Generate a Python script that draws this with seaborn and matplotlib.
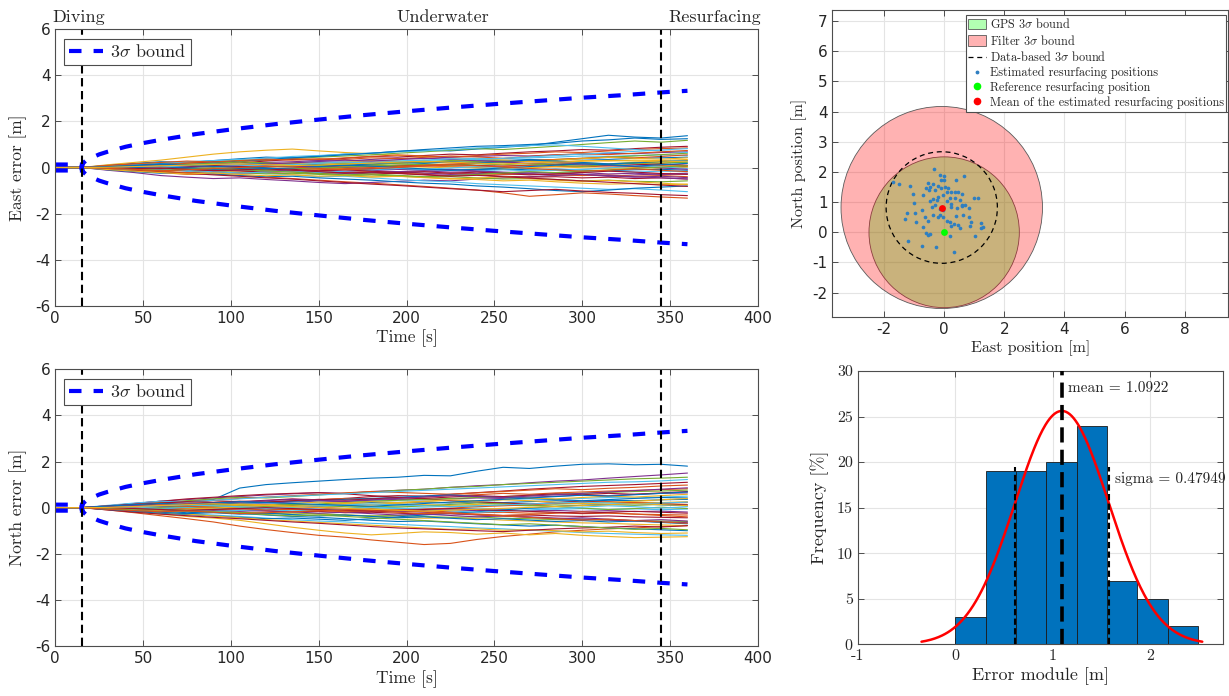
import numpy as np
import pandas as pd
import matplotlib
matplotlib.use("Agg")
import matplotlib.pyplot as plt
import matplotlib.transforms as mtransforms
from matplotlib.patches import Circle, Patch
from matplotlib.lines import Line2D
import seaborn as sns

# ---------------------------------------------------------------- data
# time stamps of the Monte-Carlo runs [s]
TIME = [0, 15, 30, 45, 60, 75, 90, 105, 120, 135, 150, 165, 180, 195, 210,
        225, 240, 255, 270, 285, 300, 315, 330, 345, 360]
# all runs have zero error before the dive (t = 0 and t = 15 s)
PRE_DIVE = [0, 0]

# East error of each run [cm], read at t = 30 ... 360 s
EAST_RUNS = [
    [10, 18, 25, 22, 30, 38, 45, 42, 50, 58, 62, 70, 75, 72, 80, 88, 95, 110, 125, 140, 132, 128, 138],
    [-8, -15, -22, -30, -28, -35, -42, -48, -55, -62, -68, -75, -82, -90, -98, -110, -125, -118, -110, -115, -122, -128, -133],
    [12, 22, 32, 45, 58, 68, 75, 80, 72, 65, 60, 52, 48, 42, 38, 32, 28, 22, 18, 15, 20, 12, 8],
    [-12, -22, -35, -42, -48, -45, -52, -58, -65, -70, -65, -60, -55, -58, -50, -45, -40, -35, -30, -38, -32, -28, -25],
    [5, 12, 20, 18, 25, 32, 30, 38, 45, 50, 55, 62, 68, 75, 82, 78, 85, 92, 100, 108, 115, 110, 118],
    [-5, -10, -8, -15, -22, -28, -25, -32, -40, -38, -45, -52, -58, -62, -70, -75, -80, -85, -90, -95, -92, -98, -105],
    [8, 15, 10, 18, 25, 20, 28, 35, 32, 40, 48, 45, 52, 58, 55, 62, 68, 72, 78, 75, 82, 88, 92],
    [-10, -18, -25, -20, -28, -35, -40, -38, -45, -50, -55, -62, -68, -72, -80, -85, -92, -100, -105, -98, -90, -85, -80],
    [3, 8, 15, 22, 18, 25, 32, 38, 35, 42, 48, 55, 50, 45, 52, 58, 62, 68, 65, 72, 78, 82, 85],
    [-3, -8, -5, -12, -18, -15, -22, -28, -25, -32, -38, -35, -42, -48, -52, -58, -55, -62, -68, -72, -70, -75, -72],
    [6, 10, 5, 12, 18, 15, 22, 25, 30, 28, 35, 40, 38, 45, 48, 52, 50, 55, 58, 62, 60, 65, 68],
    [-6, -10, -15, -12, -18, -22, -28, -25, -30, -35, -32, -38, -42, -40, -45, -50, -48, -52, -58, -55, -60, -62, -58],
    [4, 2, 8, 12, 10, 16, 14, 20, 25, 22, 28, 32, 30, 35, 40, 38, 42, 45, 50, 48, 52, 55, 52],
    [-4, -2, -8, -12, -10, -15, -20, -18, -25, -22, -28, -25, -30, -35, -32, -38, -42, -40, -45, -42, -48, -45, -50],
    [2, 6, 4, 10, 8, 12, 18, 15, 20, 18, 22, 26, 24, 28, 32, 30, 35, 32, 38, 35, 40, 42, 45],
    [-2, -6, -3, -8, -12, -10, -14, -18, -15, -20, -18, -22, -26, -24, -28, -30, -28, -32, -35, -32, -38, -35, -40],
    [5, 8, 12, 8, 15, 12, 10, 15, 18, 14, 20, 18, 22, 20, 25, 22, 28, 25, 30, 28, 32, 30, 35],
    [-5, -8, -4, -10, -6, -12, -8, -14, -10, -16, -12, -18, -15, -20, -18, -22, -20, -25, -22, -28, -25, -30, -28],
    [1, -3, 4, 0, 6, 2, 8, 5, 10, 6, 12, 9, 14, 10, 16, 12, 18, 15, 20, 16, 22, 18, 24],
    [-1, 3, -2, 2, -5, -1, -7, -3, -8, -4, -10, -6, -12, -8, -14, -10, -15, -12, -18, -14, -20, -16, -18],
    [3, 0, 5, 2, 8, 4, 10, 6, 3, 8, 5, 10, 7, 12, 9, 6, 10, 14, 11, 8, 12, 15, 10],
    [-3, 0, -4, -1, -6, -3, -8, -5, -2, -6, -9, -5, -8, -12, -9, -6, -10, -7, -11, -14, -10, -8, -12],
    [2, 4, 1, 5, 3, 7, 4, 8, 5, 2, 6, 3, 7, 4, 1, 5, 8, 4, 6, 2, 5, 8, 4],
    [-2, -4, -1, -5, -3, -6, -2, -5, -8, -4, -1, -5, -2, 2, -2, -5, -1, 3, -1, -4, 0, -3, 1],
    [0, 4, 8, 5, 2, 6, 10, 7, 3, 0, -4, -8, -12, -8, -15, -20, -25, -22, -30, -35, -40, -45, -50],
    [0, -4, -8, -5, -2, -6, -10, -6, -2, 2, 6, 10, 15, 12, 18, 22, 28, 35, 40, 45, 50, 56, 62],
    [6, 12, 18, 25, 30, 35, 40, 48, 52, 58, 62, 68, 72, 78, 85, 90, 95, 98, 92, 85, 78, 72, 65],
    [-6, -12, -18, -25, -32, -38, -45, -50, -58, -65, -72, -78, -85, -92, -98, -105, -100, -95, -102, -108, -112, -118, -122],
    [4, 10, 16, 12, 20, 28, 35, 42, 48, 55, 62, 70, 78, 85, 92, 95, 100, 105, 115, 120, 128, 122, 125],
    [-4, -10, -16, -22, -18, -25, -20, -15, -10, -5, 0, 5, 10, 15, 20, 25, 30, 35, 40, 45, 42, 48, 55],
    [7, 3, 10, 15, 12, 8, 14, 20, 17, 24, 30, 27, 22, 28, 35, 32, 26, 32, 38, 44, 40, 36, 42],
    [-7, -3, -10, -6, -14, -9, -16, -12, -20, -26, -22, -18, -24, -30, -27, -22, -28, -34, -30, -36, -42, -38, -44],
    [3, 9, 6, 13, 18, 24, 20, 15, 10, 16, 12, 18, 24, 30, 26, 20, 15, 10, 5, 12, 18, 24, 20],
    [-3, -9, -6, -13, -18, -24, -20, -15, -22, -16, -10, -4, -8, -2, 4, 0, -6, -12, -8, -2, 6, 2, -4],
    [5, 1, -4, 2, 8, 4, -2, -8, -14, -10, -16, -22, -18, -25, -20, -26, -32, -28, -22, -16, -20, -26, -30],
    [-5, -1, 4, -2, -8, -4, 2, 8, 14, 10, 16, 22, 18, 25, 20, 26, 32, 28, 22, 16, 20, 26, 30],
    [9, 16, 22, 28, 24, 30, 36, 32, 38, 35, 42, 38, 44, 50, 46, 40, 48, 55, 60, 56, 62, 68, 74],
    [-9, -16, -22, -28, -24, -30, -36, -32, -38, -35, -42, -38, -44, -50, -46, -40, -48, -55, -60, -56, -62, -68, -74],
    [2, 7, 12, 8, 4, 9, 15, 20, 26, 32, 28, 34, 40, 36, 30, 24, 18, 22, 16, 10, 4, -2, -8],
    [-2, -7, -12, -8, -4, -9, -15, -20, -26, -32, -28, -34, -40, -36, -30, -24, -18, -22, -16, -10, -4, 2, 8],
    [0, 5, 2, 8, 14, 10, 6, 12, 18, 24, 20, 26, 32, 38, 34, 40, 46, 52, 58, 64, 70, 76, 82],
    [0, -5, -2, -8, -14, -10, -6, -12, -18, -24, -20, -26, -32, -38, -34, -40, -46, -52, -58, -64, -70, -76, -82],
    [4, 8, 14, 10, 5, 0, -5, -2, 4, 10, 6, 0, -6, -12, -8, -2, 4, 10, 16, 12, 6, 12, 18],
    [-4, -8, -14, -10, -5, 0, 5, 2, -4, -10, -6, 0, 6, 12, 8, 2, -4, -10, -16, -12, -6, -12, -18],
    [1, 4, 7, 10, 13, 16, 12, 8, 11, 15, 19, 23, 27, 23, 19, 15, 19, 23, 27, 31, 28, 24, 28],
]

# North error of each run [cm], read at t = 30 ... 360 s
NORTH_RUNS = [
    [5, 12, 20, 28, 35, 85, 100, 108, 115, 122, 128, 132, 140, 138, 158, 175, 170, 180, 188, 190, 186, 188, 180],
    [-10, -22, -35, -48, -62, -80, -95, -108, -120, -128, -140, -150, -160, -155, -138, -125, -115, -105, -98, -92, -88, -82, -78],
    [-8, -18, -28, -38, -45, -55, -70, -85, -98, -110, -118, -112, -105, -108, -115, -110, -118, -112, -120, -125, -130, -128, -126],
    [8, 18, 28, 35, 42, 48, 55, 60, 65, 62, 70, 75, 80, 88, 95, 100, 108, 115, 120, 128, 135, 142, 150],
    [6, 14, 22, 30, 38, 45, 42, 48, 55, 62, 68, 75, 80, 88, 92, 100, 105, 110, 115, 120, 125, 128, 132],
    [-6, -14, -20, -26, -32, -38, -45, -52, -58, -62, -68, -72, -78, -82, -88, -92, -98, -102, -108, -112, -115, -118, -120],
    [5, 10, 16, 24, 30, 26, 32, 38, 34, 40, 48, 52, 50, 58, 65, 72, 80, 86, 92, 96, 100, 105, 110],
    [-5, -10, -15, -22, -18, -25, -32, -38, -42, -48, -55, -60, -58, -64, -70, -75, -80, -76, -82, -88, -92, -96, -100],
    [3, 8, 12, 18, 22, 26, 24, 30, 35, 40, 36, 42, 46, 52, 56, 62, 58, 64, 68, 72, 75, 78, 82],
    [-3, -8, -12, -10, -16, -20, -25, -22, -28, -32, -36, -42, -46, -44, -48, -54, -58, -62, -66, -68, -72, -75, -78],
    [4, 8, 5, 12, 16, 14, 20, 24, 28, 26, 32, 36, 34, 38, 42, 40, 45, 50, 54, 52, 58, 62, 64],
    [-4, -6, -12, -16, -14, -20, -24, -28, -26, -32, -36, -34, -38, -42, -40, -46, -48, -52, -50, -54, -56, -58, -60],
    [2, 5, 9, 6, 12, 18, 15, 20, 24, 22, 28, 30, 28, 33, 30, 35, 38, 36, 40, 44, 42, 46, 50],
    [-2, -5, -4, -9, -12, -10, -15, -18, -16, -22, -20, -24, -28, -26, -30, -34, -32, -36, -38, -36, -40, -42, -44],
    [1, 5, 2, 6, 10, 8, 12, 15, 12, 18, 22, 20, 24, 20, 25, 22, 26, 30, 27, 32, 30, 34, 36],
    [-1, -4, 1, -4, -8, -5, -10, -8, -12, -15, -11, -16, -14, -18, -22, -20, -24, -22, -26, -24, -28, -30, -32],
    [3, 0, 4, 8, 5, 10, 7, 12, 9, 14, 11, 16, 13, 10, 14, 18, 15, 20, 16, 21, 24, 22, 26],
    [-3, 0, -4, -1, -5, -2, -7, -3, -8, -6, -10, -7, -11, -9, -13, -10, -14, -12, -16, -13, -17, -15, -19],
    [2, -2, 3, 0, 4, 1, 5, 2, 6, 8, 4, 7, 9, 5, 8, 11, 8, 12, 9, 13, 10, 14, 12],
    [-2, 2, -3, 0, -4, -1, -5, -2, -6, -3, -7, -4, -1, -5, -2, -6, -3, -7, -4, -8, -5, -9, -6],
    [8, 18, 28, 38, 45, 52, 58, 62, 65, 60, 52, 45, 38, 30, 25, 20, 16, 22, 28, 24, 20, 16, 12],
    [-8, -16, -24, -30, -36, -42, -48, -45, -50, -55, -48, -40, -32, -25, -18, -10, -2, 5, 10, 14, 18, 12, 8],
    [5, 12, 20, 26, 32, 40, 46, 52, 58, 64, 70, 66, 62, 58, 64, 70, 76, 82, 78, 84, 88, 94, 98],
    [-5, -12, -20, -28, -36, -44, -52, -58, -64, -70, -76, -82, -88, -94, -92, -98, -95, -100, -105, -102, -108, -112, -110],
    [2, 5, 10, 15, 20, 16, 12, 8, 2, -4, -10, -15, -20, -26, -32, -36, -40, -45, -50, -54, -58, -62, -65],
    [-2, -5, -10, -14, -8, -2, 4, 10, 16, 22, 28, 32, 36, 40, 44, 48, 52, 58, 62, 66, 70, 72, 76],
    [10, 20, 28, 24, 32, 38, 45, 50, 55, 60, 65, 70, 75, 80, 85, 90, 95, 100, 105, 110, 112, 116, 122],
    [-10, -20, -28, -35, -42, -48, -55, -62, -68, -75, -82, -88, -92, -96, -100, -104, -98, -92, -88, -85, -80, -84, -78],
    [4, 8, 5, 10, 15, 20, 24, 28, 32, 36, 40, 45, 50, 55, 50, 45, 40, 35, 30, 35, 40, 44, 42],
    [-4, -8, -10, -5, 0, 5, 10, 6, 0, -6, -12, -10, -6, -2, 4, 8, 12, 18, 22, 26, 22, 18, 22],
    [6, 2, 9, 14, 10, 16, 12, 18, 24, 20, 26, 22, 28, 34, 30, 36, 42, 38, 44, 50, 46, 52, 58],
    [-6, -2, -9, -14, -10, -16, -12, -18, -24, -20, -26, -32, -28, -34, -40, -36, -42, -48, -44, -50, -56, -52, -58],
    [3, 8, 4, 10, 16, 12, 8, 14, 10, 4, -2, 2, 8, 14, 20, 16, 10, 4, -2, -8, -4, 2, -4],
    [-3, -8, -4, -10, -16, -12, -8, -14, -10, -4, 2, -2, -8, -14, -20, -16, -10, -4, 2, 8, 4, -2, 4],
    [8, 14, 20, 26, 22, 28, 24, 30, 36, 32, 38, 44, 40, 46, 52, 48, 54, 60, 56, 62, 58, 64, 70],
    [-8, -14, -20, -26, -22, -28, -24, -30, -36, -32, -38, -44, -40, -46, -52, -48, -54, -60, -56, -62, -58, -64, -70],
    [2, 6, 10, 6, 2, -4, -10, -6, -12, -18, -14, -20, -26, -22, -28, -34, -30, -24, -18, -22, -28, -34, -40],
    [-2, -6, -10, -6, -2, 4, 10, 6, 12, 18, 14, 20, 26, 22, 28, 34, 30, 24, 18, 22, 28, 34, 40],
    [5, 10, 6, 12, 18, 24, 30, 36, 32, 28, 34, 40, 46, 52, 48, 44, 50, 56, 62, 68, 74, 80, 86],
    [-5, -10, -6, -12, -18, -24, -30, -36, -32, -38, -44, -50, -56, -62, -68, -74, -70, -76, -82, -88, -94, -90, -96],
    [0, 4, 8, 12, 8, 4, 0, 4, 8, 12, 16, 12, 8, 4, 8, 12, 16, 20, 24, 20, 16, 20, 24],
    [0, -4, -8, -12, -8, -4, 0, -4, -8, -12, -16, -12, -8, -4, -8, -12, -16, -20, -24, -20, -16, -20, -24],
    [7, 13, 18, 14, 20, 26, 22, 18, 14, 10, 6, 12, 18, 24, 30, 36, 42, 48, 54, 50, 56, 62, 68],
    [-7, -13, -18, -14, -20, -26, -22, -18, -14, -10, -6, -12, -18, -24, -30, -36, -42, -48, -54, -50, -56, -62, -68],
    [1, 5, 9, 13, 17, 13, 9, 5, 1, -3, -7, -11, -15, -11, -7, -3, 1, 5, 9, 13, 17, 13, 9],
]

# 3-sigma bound of the filter [m]
BOUND_TIME = [0, 15, 15, 16, 17.5, 20, 25, 30, 40, 50, 60, 80, 100, 125, 150,
              175, 200, 225, 250, 275, 300, 325, 345, 360]
BOUND_VALUE = [0.13, 0.13, 0.0, 0.2, 0.3, 0.4, 0.57, 0.69, 0.9, 1.06, 1.2, 1.45,
               1.65, 1.88, 2.08, 2.27, 2.44, 2.6, 2.75, 2.89, 3.03, 3.15, 3.26, 3.33]

DIVE_TIME = 15
RESURFACE_TIME = 345
PHASES = ["Diving", "Underwater", "Resurfacing"]
PHASE_X = [-1.9, 194.5, 349]

# estimated resurfacing positions [m]
EST_EAST = [-0.33, -0.14, -0.01, 0.66, -0.12, -0.01, 0.41, -1.69, -1.50, -1.14,
            -0.55, -0.36, -0.48, -0.61, -0.20, -0.09, 0.02, 0.13, -0.50, -0.31,
            0.24, 0.36, 0.47, -1.05, -0.70, 0.08, -0.03, -0.20, 0.58, -0.36,
            -0.25, 0.19, 0.36, 0.99, 1.11, -1.00, -0.48, 0.08, 0.52, 0.61,
            0.69, 0.83, -0.42, -0.31, 0.24, 0.24, 0.43, 0.58, -0.75, -0.14,
            -0.03, -1.25, -0.97, -0.64, -0.36, -0.14, -0.20, -0.03, 0.39, 0.63,
            0.83, 0.08, 0.21, -1.31, -0.94, -0.55, 0.88, 1.22, 0.32, 0.47,
            0.24, 0.52, -0.72, 0.85, 1.21, 1.30, -0.61, -0.55, -0.48, 0.19,
            1.02, -1.21, -0.73, -0.28, 0.33]
EST_NORTH = [2.09, 1.90, 1.88, 1.88, 1.73, 1.72, 1.73, 1.68, 1.59, 1.55,
             1.62, 1.59, 1.51, 1.48, 1.54, 1.46, 1.49, 1.46, 1.40, 1.40,
             1.35, 1.35, 1.33, 1.26, 1.22, 1.33, 1.24, 1.18, 1.26, 1.10,
             1.07, 1.15, 1.13, 1.15, 1.13, 0.96, 1.02, 1.02, 1.07, 0.91,
             0.91, 0.80, 0.85, 0.91, 0.93, 0.85, 0.82, 0.88, 0.74, 0.77,
             0.74, 0.63, 0.63, 0.52, 0.57, 0.57, 0.49, 0.52, 0.55, 0.57,
             0.52, 0.38, 0.35, 0.43, 0.35, 0.38, 0.35, 0.30, 0.26, 0.24,
             0.21, 0.15, 0.19, 0.22, 0.15, 0.19, -0.03, -0.09, -0.07, -0.14,
             -0.14, -0.29, -0.45, -0.50, -0.66]
REF_POS = (0.0, 0.0)
MEAN_POS = (-0.08, 0.82)
GPS_RADIUS = 2.5
FILTER_RADIUS = 3.35
DATA_RADIUS = 1.85

# histogram of the error module
BIN_EDGES = [0.0, 0.311, 0.622, 0.933, 1.244, 1.555, 1.866, 2.177, 2.488]
FREQ = [3, 19, 19, 20, 24, 7, 5, 2]
ERR_MEAN = 1.0922
ERR_SIGMA = 0.47949

# ---------------------------------------------------------------- style
sns.set_theme(style="whitegrid")
SERIF = "cmr10"
plt.rcParams.update({
    "font.family": ["DejaVu Sans"],
    "mathtext.fontset": "cm",
    "axes.unicode_minus": False,
    "axes.edgecolor": "#4d4d4d",
    "axes.linewidth": 0.8,
    "axes.facecolor": "white",
    "grid.color": "#e4e4e4",
    "grid.linewidth": 0.8,
    "xtick.direction": "in",
    "ytick.direction": "in",
    "xtick.top": True,
    "ytick.right": True,
    "xtick.bottom": True,
    "ytick.left": True,
    "xtick.major.size": 4,
    "ytick.major.size": 4,
    "xtick.major.width": 0.7,
    "ytick.major.width": 0.7,
    "xtick.color": "#4d4d4d",
    "ytick.color": "#4d4d4d",
    "xtick.labelcolor": "#262626",
    "ytick.labelcolor": "#262626",
    "xtick.labelsize": 11,
    "ytick.labelsize": 11,
})

MATLAB = ["#0072BD", "#D95319", "#EDB120", "#7E2F8E", "#77AC30", "#4DBEEE", "#A2142F"]
BOUND_STYLE = dict(color="blue", lw=3.0, linestyle=(0, (3.0, 2.9)))
PHASE_STYLE = dict(color="black", lw=1.5, linestyle=(0, (4, 2.2)))

W, H = 1229, 696
fig = plt.figure(figsize=(W / 100, H / 100), dpi=100)


def rect(left, top, right, bottom):
    return [left / W, 1 - bottom / H, (right - left) / W, (bottom - top) / H]


def runs_frame(runs):
    rows = []
    for i, run in enumerate(runs):
        for t, v in zip(TIME, PRE_DIVE + run):
            rows.append((t, v / 100.0, i))
    return pd.DataFrame(rows, columns=["time", "error", "run"])


def error_panel(ax, runs, ylabel, phases):
    df = runs_frame(runs)
    pal = {i: MATLAB[i % len(MATLAB)] for i in range(len(runs))}
    sns.lineplot(data=df, x="time", y="error", hue="run", palette=pal,
                 estimator=None, sort=False, lw=0.8, legend=False, ax=ax)
    ax.plot(BOUND_TIME, BOUND_VALUE, **BOUND_STYLE)
    ax.plot(BOUND_TIME, [-v for v in BOUND_VALUE], **BOUND_STYLE)
    ax.axvline(DIVE_TIME, **PHASE_STYLE)
    ax.axvline(RESURFACE_TIME, **PHASE_STYLE)
    ax.set_xlim(0, 400)
    ax.set_ylim(-6, 6)
    ax.set_xticks(range(0, 401, 50))
    ax.set_yticks(range(-6, 7, 2))
    ax.set_xlabel("Time [s]", fontfamily=SERIF, fontsize=12.5, labelpad=3)
    ax.set_ylabel(ylabel, fontfamily=SERIF, fontsize=12.5, labelpad=6)
    handle = Line2D([], [], **BOUND_STYLE)
    ax.legend([handle], [r"3$\sigma$ bound"], loc="upper left",
              bbox_to_anchor=(0.0124, 0.965), borderaxespad=0,
              prop={"family": SERIF, "size": 13}, handlelength=1.9,
              handletextpad=0.4, borderpad=0.25, fancybox=False,
              framealpha=1, edgecolor="#4d4d4d")
    ax.get_legend().get_frame().set_linewidth(0.8)
    if phases:
        tr = mtransforms.blended_transform_factory(ax.transData, ax.transAxes)
        for name, x in zip(PHASES, PHASE_X):
            ax.text(x, 1.026, name, transform=tr, fontfamily=SERIF,
                    fontsize=13, va="baseline", ha="left", color="#262626")


ax1 = fig.add_axes(rect(55.3, 29.3, 757.7, 305.7))
error_panel(ax1, EAST_RUNS, "East error [m]", True)
ax2 = fig.add_axes(rect(55.3, 369.3, 757.7, 646.0))
error_panel(ax2, NORTH_RUNS, "North error [m]", False)

# ---------------------------------------------------------------- positions
ax3 = fig.add_axes(rect(832.3, 10.3, 1228.0, 316.7))
ax3.set_axisbelow(True)
gps = Circle(REF_POS, GPS_RADIUS, facecolor=(0, 1, 0, 0.3),
             edgecolor=(0.35, 0.35, 0.35), lw=0.6, zorder=1)
flt = Circle(MEAN_POS, FILTER_RADIUS, facecolor=(1, 0, 0, 0.3),
             edgecolor=(0.35, 0.35, 0.35), lw=0.6, zorder=1.1)
dat = Circle(MEAN_POS, DATA_RADIUS, facecolor="none", edgecolor="black",
             lw=0.9, linestyle=(0, (4, 3)), zorder=2)
for p in (gps, flt, dat):
    ax3.add_patch(p)
sns.scatterplot(x=EST_EAST, y=EST_NORTH, color="#2f7fc1", s=7, linewidth=0,
                ax=ax3, zorder=3)
sns.scatterplot(x=[REF_POS[0]], y=[REF_POS[1]], color=(0, 1, 0), s=24,
                linewidth=0, ax=ax3, zorder=4)
sns.scatterplot(x=[MEAN_POS[0]], y=[MEAN_POS[1]], color=(1, 0, 0), s=24,
                linewidth=0, ax=ax3, zorder=4)
ax3.set_xlim(-3.72, 9.44)
ax3.set_ylim(-2.80, 7.36)
ax3.set_xticks(range(-2, 9, 2))
ax3.set_yticks(range(-2, 8, 1))
ax3.set_xlabel("East position [m]", fontfamily=SERIF, fontsize=11.5, labelpad=3)
ax3.set_ylabel("North position [m]", fontfamily=SERIF, fontsize=11.5, labelpad=4)
handles = [
    Patch(facecolor=(0, 1, 0, 0.3), edgecolor=(0.35, 0.35, 0.35), lw=0.6),
    Patch(facecolor=(1, 0, 0, 0.3), edgecolor=(0.35, 0.35, 0.35), lw=0.6),
    Line2D([], [], color="black", lw=0.9, linestyle=(0, (4, 3))),
    Line2D([], [], color="#2f7fc1", marker=".", ms=3.5, lw=0),
    Line2D([], [], color=(0, 1, 0), marker="o", ms=4.5, lw=0),
    Line2D([], [], color=(1, 0, 0), marker="o", ms=4.5, lw=0),
]
labels = [r"GPS 3$\sigma$ bound", r"Filter 3$\sigma$ bound",
          r"Data-based 3$\sigma$ bound", "Estimated resurfacing positions",
          "Reference resurfacing position",
          "Mean of the estimated resurfacing positions"]
leg = ax3.legend(handles, labels, loc="upper right",
                 bbox_to_anchor=(0.996, 0.985), borderaxespad=0,
                 prop={"family": SERIF, "size": 8.8}, handlelength=1.5,
                 handleheight=0.9, handletextpad=0.3, labelspacing=0.2,
                 borderpad=0.2, fancybox=False, framealpha=1,
                 edgecolor="#4d4d4d")
leg.get_frame().set_linewidth(0.8)

# ---------------------------------------------------------------- histogram
ax4 = fig.add_axes(rect(857.7, 371.0, 1222.7, 644.3))
ax4.set_axisbelow(True)
centers = [(a + b) / 2 for a, b in zip(BIN_EDGES[:-1], BIN_EDGES[1:])]
sns.histplot(x=centers, weights=FREQ, bins=BIN_EDGES, stat="count",
             color="#0072BD", alpha=1, edgecolor="#1a1a1a", linewidth=0.6,
             ax=ax4)
bw = BIN_EDGES[1] - BIN_EDGES[0]
xs = np.linspace(ERR_MEAN - 3 * ERR_SIGMA, ERR_MEAN + 3 * ERR_SIGMA, 300)
ys = sum(FREQ) * bw * np.exp(-0.5 * ((xs - ERR_MEAN) / ERR_SIGMA) ** 2) / (ERR_SIGMA * np.sqrt(2 * np.pi))
sns.lineplot(x=xs, y=ys, color="red", lw=1.8, ax=ax4, zorder=5)
ax4.plot([ERR_MEAN, ERR_MEAN], [0, 30], color="black", lw=2.6,
         linestyle=(0, (4.2, 2.0)), zorder=6)
for xv in (ERR_MEAN - ERR_SIGMA, ERR_MEAN + ERR_SIGMA):
    ax4.plot([xv, xv], [0, 19.5], color="black", lw=1.5,
             linestyle=(0, (3, 1.6)), zorder=6)
ax4.text(ERR_MEAN + 0.065, 28.1, f"mean = {ERR_MEAN}", fontfamily=SERIF,
         fontsize=11, va="center", ha="left", color="#262626")
ax4.text(ERR_MEAN + ERR_SIGMA + 0.06, 18.1, f"sigma = {ERR_SIGMA}",
         fontfamily=SERIF, fontsize=11, va="center", ha="left", color="#262626")
ax4.set_xlim(-1, 2.74)
ax4.set_ylim(0, 30)
ax4.set_xticks([-1, 0, 1, 2])
ax4.set_yticks(range(0, 31, 5))
ax4.set_xlabel("Error module [m]", fontfamily=SERIF, fontsize=13, labelpad=3)
ax4.set_ylabel("Frequency [%]", fontfamily=SERIF, fontsize=13, labelpad=6)
for lab in ax4.get_xticklabels() + ax4.get_yticklabels():
    lab.set_fontfamily(SERIF)
    lab.set_fontsize(11.5)

for ax in (ax1, ax2, ax3, ax4):
    ax.grid(True, color="#e4e4e4", lw=0.8)
    for s in ax.spines.values():
        s.set_visible(True)
        s.set_color("#4d4d4d")
        s.set_linewidth(0.8)

fig.savefig("out.png", dpi=100)
